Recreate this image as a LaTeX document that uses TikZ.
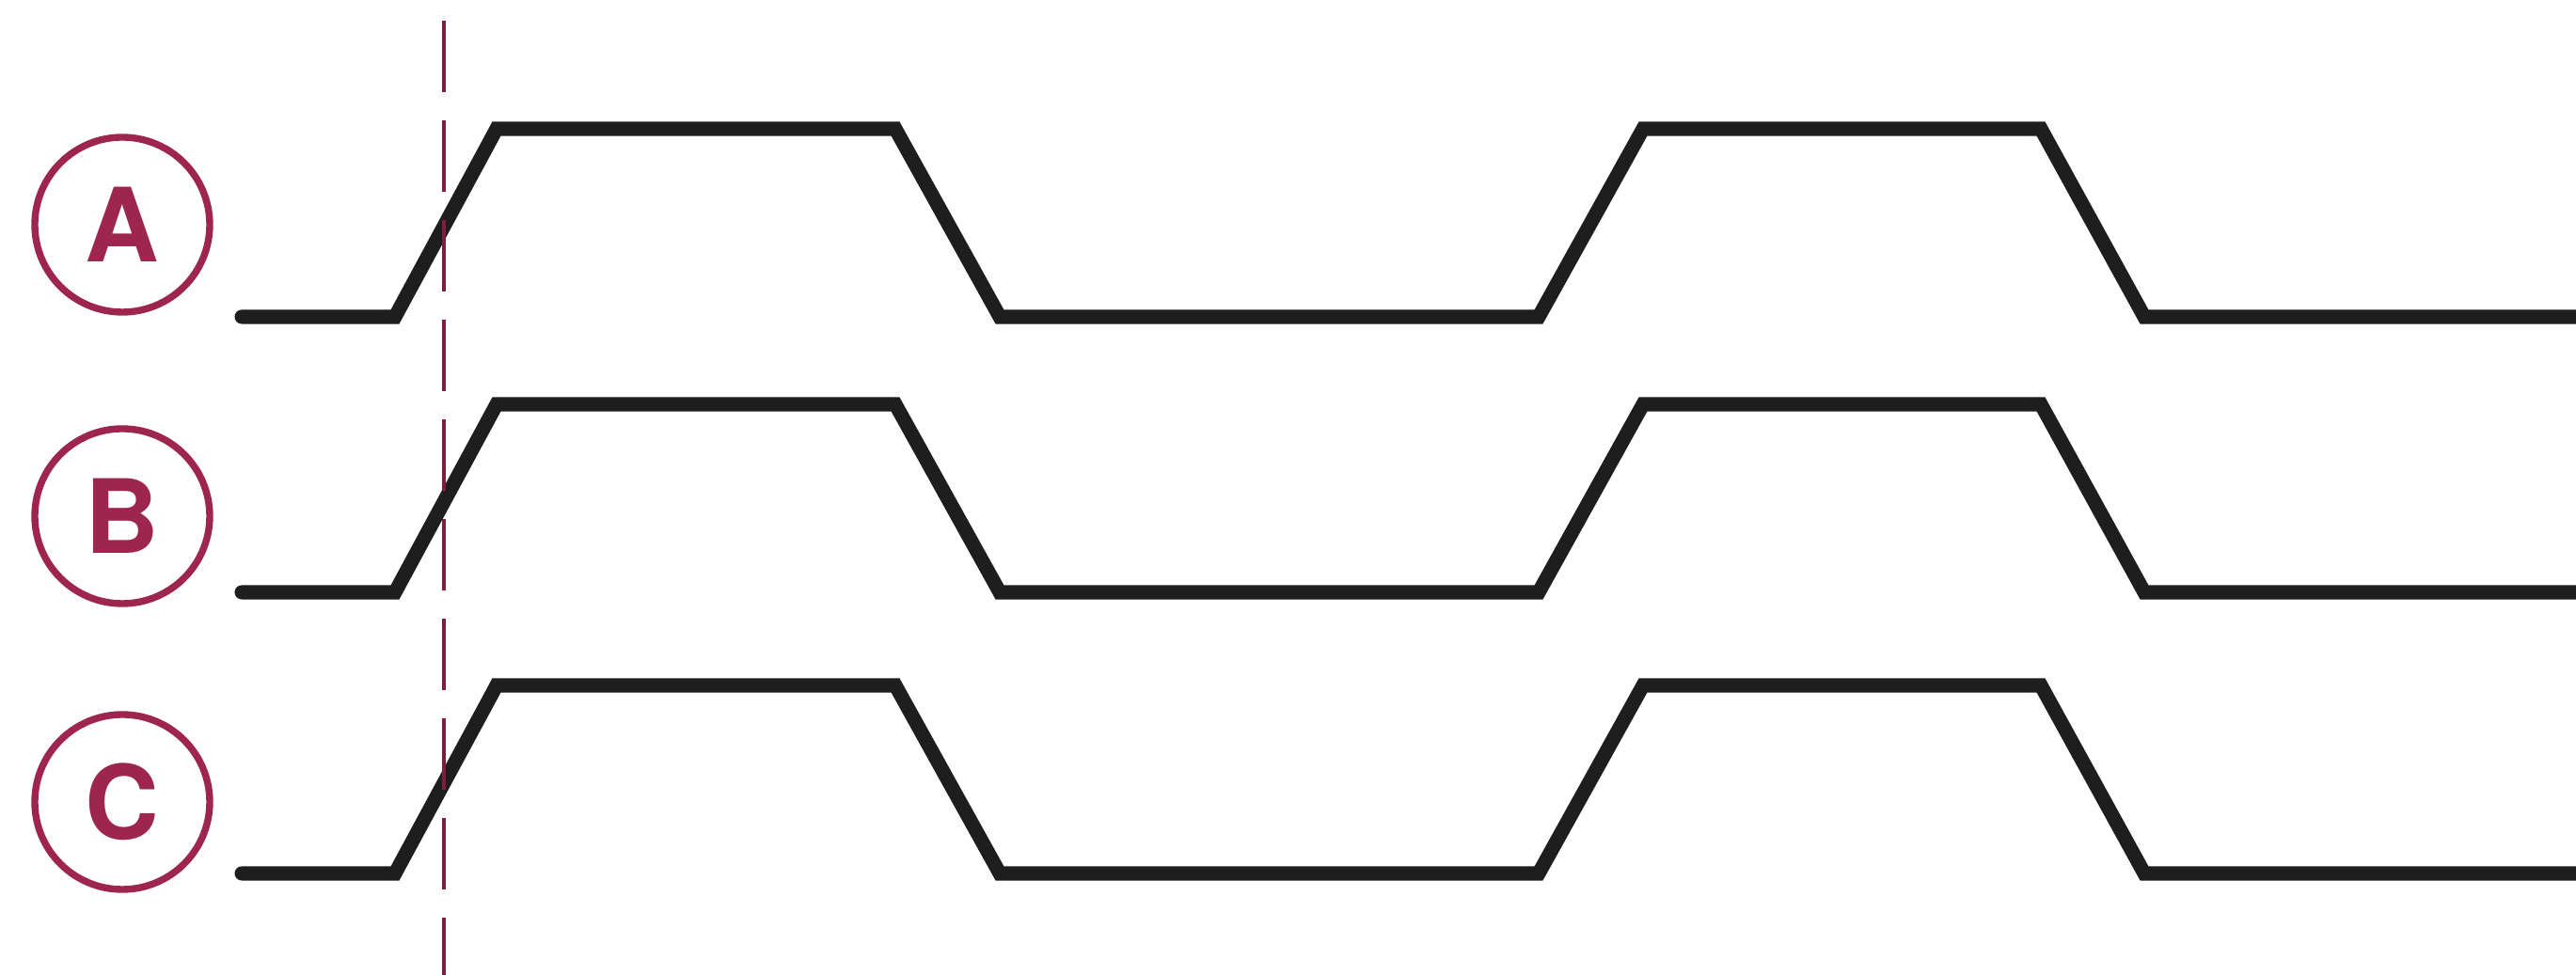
\documentclass[tikz,border=0pt]{standalone}
\usepackage{fontspec}
\setmainfont{TeX Gyre Heros}
\usetikzlibrary{positioning}
\definecolor{sigred}{RGB}{158,38,78}
\definecolor{wavegray}{RGB}{30,30,30}

\begin{document}
\begin{tikzpicture}[
    font=\bfseries\fontsize{31}{36}\selectfont,
    badge/.style={draw=sigred, text=sigred, circle, line width=2.1pt, minimum size=1.86cm, inner sep=0pt},
    wave/.style={draw=wavegray, line width=4.3pt, line cap=round, line join=miter},
    marker/.style={draw=sigred!80!black, line width=1.4pt, dash pattern=on 0.76cm off 0.30cm}
]
\useasboundingbox (0,0) rectangle (27.39,10.37);
\node[badge] (sigA) at (1.30,7.98) {A};
\node[badge] (sigB) at (1.30,4.88) {B};
\node[badge] (sigC) at (1.30,1.84) {C};

\foreach \y in {7.00, 4.07, 1.08}
  \draw[wave] (2.57,\y) -- (4.20,\y) -- (5.28,\y+2) -- (9.52,\y+2) -- (10.63,\y)
    -- (16.36,\y) -- (17.47,\y+2) -- (21.70,\y+2) -- (22.80,\y) -- (27.60,\y);

% trigger instant
\coordinate (trigtop) at (4.72,10.15);
\coordinate (trigbot) at (4.72,-0.1);
\draw[marker] (trigtop) -- (trigbot);
\end{tikzpicture}
\end{document}
